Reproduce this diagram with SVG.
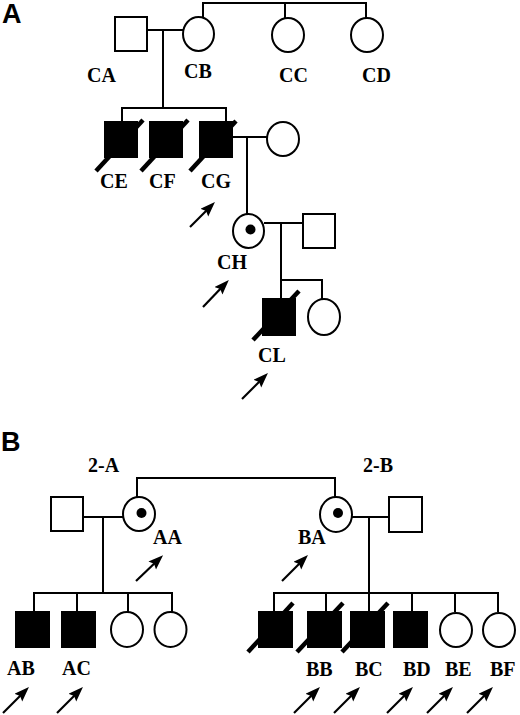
<svg xmlns="http://www.w3.org/2000/svg" width="520" height="715" viewBox="0 0 520 715">
<defs>
<style>
.ln{stroke:#000;stroke-width:2;fill:none}
.m{fill:#fff;stroke:#000;stroke-width:2}
.a{fill:#000;stroke:#000;stroke-width:2}
.sl{stroke:#000;stroke-width:4.5}
.lb{font-family:"Liberation Serif","Times New Roman",serif;font-weight:bold;font-size:20px;fill:#000}
.pl{font-family:"Liberation Sans",Arial,sans-serif;font-weight:bold;font-size:27px;fill:#000}
.ar{stroke:#000;stroke-width:2.2;marker-end:url(#ah)}
</style>
<marker id="ah" markerUnits="userSpaceOnUse" markerWidth="16" markerHeight="12" refX="8" refY="5.5" orient="auto">
<path d="M0,0 L15,5.5 L0,11 L2.5,5.5 z" fill="#000"/>
</marker>
</defs>
<rect width="520" height="715" fill="#fff"/>
<text class="pl" x="2" y="23">A</text>
<text class="pl" x="1" y="451">B</text>
<g id="connectors">
<path class="ln" d="M147,30 H183 M163,30 V108 M122,122 V108 H226 V122"/>
<path class="ln" d="M203,18 V3 H366 V18 M285,3 V18"/>
<path class="ln" d="M232,137 H267 M247,137 V214"/>
<path class="ln" d="M264,223 H303 M281,223 V299 M281,280 H322 V300"/>
<path class="ln" d="M137,497 V478 H335 V497"/>
<path class="ln" d="M83,517 H123 M103,517 V593 M34,612 V593 H172 V612 M77,593 V612 M128,593 V612"/>
<path class="ln" d="M352,517 H389 M369,517 V612 M274,612 V593 H498 V612 M326,593 V612 M412,593 V612 M455,593 V612"/>
</g>
<g id="CA"><rect class="m" x="115" y="17" width="32" height="34"/><text class="lb" x="87" y="82">CA</text></g>
<g id="CB"><ellipse class="m" cx="198.5" cy="34" rx="15.5" ry="17"/><text class="lb" x="184" y="78">CB</text></g>
<g id="CC"><ellipse class="m" cx="288" cy="35" rx="16" ry="17"/><text class="lb" x="279" y="82">CC</text></g>
<g id="CD"><ellipse class="m" cx="367" cy="35" rx="16" ry="17"/><text class="lb" x="362" y="82">CD</text></g>
<g id="CE"><rect class="a" x="105" y="122" width="32" height="35"/><line class="sl" x1="96" y1="171" x2="143" y2="120"/><text class="lb" x="100" y="188">CE</text></g>
<g id="CF"><rect class="a" x="150" y="122" width="32" height="35"/><line class="sl" x1="141" y1="171" x2="188" y2="120"/><text class="lb" x="149" y="188">CF</text></g>
<g id="CG"><rect class="a" x="200" y="122" width="32" height="35"/><line class="sl" x1="190" y1="171" x2="236" y2="121"/><text class="lb" x="201" y="188">CG</text><line class="ar" x1="190" y1="227" x2="210" y2="207"/></g>
<g id="CG-spouse"><ellipse class="m" cx="283" cy="139" rx="16" ry="17"/></g>
<g id="CH"><ellipse class="m" cx="248.5" cy="231" rx="15.5" ry="17"/><circle cx="250.5" cy="229.5" r="5" fill="#000"/><text class="lb" x="217" y="269">CH</text><line class="ar" x1="203" y1="307" x2="224" y2="285"/></g>
<g id="CH-spouse"><rect class="m" x="303" y="214" width="32" height="34"/></g>
<g id="CL"><rect class="a" x="263" y="299" width="32" height="36"/><line class="sl" x1="253" y1="340" x2="299" y2="291"/><text class="lb" x="258" y="362">CL</text><line class="ar" x1="242" y1="399" x2="263" y2="378"/></g>
<g id="CL-sib"><ellipse class="m" cx="324" cy="317" rx="16" ry="18"/></g>
<text class="lb" x="88" y="472">2-A</text>
<text class="lb" x="363" y="472">2-B</text>
<g id="AA-spouse"><rect class="m" x="51" y="497" width="32" height="34"/></g>
<g id="AA"><ellipse class="m" cx="139" cy="514" rx="16" ry="17"/><circle cx="141.5" cy="513" r="5" fill="#000"/><text class="lb" x="153" y="544">AA</text><line class="ar" x1="136" y1="581" x2="158" y2="560"/></g>
<g id="BA"><ellipse class="m" cx="336" cy="514.5" rx="16" ry="17.5"/><circle cx="338" cy="513" r="5" fill="#000"/><text class="lb" x="298" y="544">BA</text><line class="ar" x1="282" y1="581" x2="303" y2="560"/></g>
<g id="BA-spouse"><rect class="m" x="389" y="497" width="33" height="35"/></g>
<g id="AB"><rect class="a" x="16" y="612" width="33" height="35"/><text class="lb" x="7" y="675">AB</text><line class="ar" x1="3" y1="713" x2="24" y2="692"/></g>
<g id="AC"><rect class="a" x="62" y="612" width="33" height="35"/><text class="lb" x="62" y="675">AC</text><line class="ar" x1="57" y1="713" x2="78" y2="692"/></g>
<g id="A-d1"><ellipse class="m" cx="127" cy="629.5" rx="16" ry="17.5"/></g>
<g id="A-d2"><ellipse class="m" cx="170.5" cy="629.5" rx="16" ry="17.5"/></g>
<g id="B-s1"><rect class="a" x="259" y="612" width="33" height="35"/><line class="sl" x1="248" y1="652" x2="293" y2="603"/></g>
<g id="BB"><rect class="a" x="308" y="612" width="33" height="35"/><line class="sl" x1="297" y1="652" x2="343" y2="603"/><text class="lb" x="306" y="676">BB</text><line class="ar" x1="294" y1="713" x2="315" y2="692"/></g>
<g id="BC"><rect class="a" x="351" y="612" width="33" height="35"/><line class="sl" x1="342" y1="652" x2="388" y2="603"/><text class="lb" x="355" y="676">BC</text><line class="ar" x1="334" y1="713" x2="355" y2="692"/></g>
<g id="BD"><rect class="a" x="394" y="612" width="33" height="35"/><text class="lb" x="403" y="676">BD</text><line class="ar" x1="387" y1="713" x2="408" y2="692"/></g>
<g id="BE"><ellipse class="m" cx="456" cy="630" rx="16" ry="17"/><text class="lb" x="445" y="676">BE</text><line class="ar" x1="427" y1="713" x2="448" y2="692"/></g>
<g id="BF"><ellipse class="m" cx="499" cy="630" rx="16" ry="17"/><text class="lb" x="490" y="676">BF</text><line class="ar" x1="467" y1="713" x2="488" y2="692"/></g>
</svg>
